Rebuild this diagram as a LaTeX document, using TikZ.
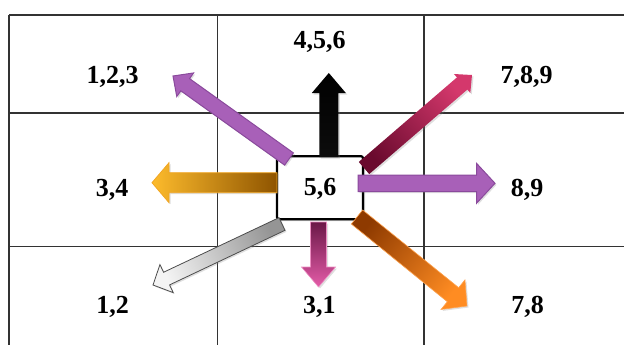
\documentclass[tikz,border=0pt]{standalone}
\usepackage{fontspec}
\setmainfont{Liberation Serif}
\usetikzlibrary{calc,shadows}

\definecolor{morado}{HTML}{A860B8}
\definecolor{moradoborde}{HTML}{8A4A9C}
\definecolor{granate}{HTML}{6A0A2E}
\definecolor{rosa}{HTML}{D4386C}
\definecolor{ocre}{HTML}{8E5400}
\definecolor{amarillo}{HTML}{FDBB2C}
\definecolor{amarilloborde}{HTML}{F2A623}
\definecolor{grisoscuro}{HTML}{959595}
\definecolor{grisclaro}{HTML}{F4F4F4}
\definecolor{ciruela}{HTML}{6B1848}
\definecolor{fucsia}{HTML}{E45CA8}
\definecolor{marron}{HTML}{8E3A00}
\definecolor{naranja}{HTML}{FF8C22}

% flecha de bloque: estilo, cola, punta, semiancho, semiancho punta, largo punta
\newcommand{\flecha}[6]{%
  \coordinate (fb) at ($(#3)!#6!(#2)$);
  \path[#1] ($(#2)!#4!90:(#3)$) -- ($(fb)!#4!90:(#3)$) -- ($(fb)!#5!90:(#3)$)
    -- (#3) -- ($(fb)!#5!-90:(#3)$) -- ($(fb)!#4!-90:(#3)$)
    -- ($(#2)!#4!-90:(#3)$) -- cycle;
}

\tikzset{
  rejilla/.style={draw=black!80, line width=1.1pt},
  etiqueta/.style={font=\fontsize{26}{26}\selectfont\bfseries, inner sep=0pt, text depth=0pt},
  cajacentro/.style={etiqueta, draw=black, line width=2.2pt, fill=white, rounded corners=2pt,
    minimum width=86pt, minimum height=63pt,
    drop shadow={opacity=.35, shadow xshift=2pt, shadow yshift=-2pt}},
  sombra/.style={drop shadow={opacity=.25, shadow xshift=1.5pt, shadow yshift=-1.5pt}},
  degradado/.style n args={3}{bottom color=#1, top color=#2, shading angle=#3},
}

\begin{document}
\begin{tikzpicture}[x=1pt, y=-1pt]

\useasboundingbox (0,0) rectangle (624,345);

% Rejilla
	\foreach \x in {9, 217.5, 424}
		\draw[rejilla] (\x,15) -- (\x,345);

	\foreach \y in {15, 113, 246.5}
		\draw[rejilla] (9,\y) -- (624,\y);

% Etiquetas
	\node[etiqueta] (c123) at (112.6,75) {1,2,3};
	\node[etiqueta] (c456) at (319.5,40) {4,5,6};
	\node[etiqueta] (c789) at (526.6,75) {7,8,9};
	\node[etiqueta] (c34) at (112,187.5) {3,4};
	\node[etiqueta] (c89) at (527,187.5) {8,9};
	\node[etiqueta] (c12) at (112.6,305) {1,2};
	\node[etiqueta] (c31) at (319.3,305) {3,1};
	\node[etiqueta] (c78) at (527.5,305) {7,8};

% Caja central
	\node[cajacentro] (c56) at (320,187.7) {\raisebox{2pt}{5,6}};

% Flechas
	\coordinate (cn) at (328.8,157);   \coordinate (pn) at (328.8,73);
	\coordinate (cno) at (289,159);    \coordinate (pno) at (173,76);
	\coordinate (cne) at (364,168);    \coordinate (pne) at (472,75);
	\coordinate (co) at (277,182.7);   \coordinate (po) at (152,182.7);
	\coordinate (ce) at (358,183.3);   \coordinate (pe) at (495,183.3);
	\coordinate (cso) at (282,224);    \coordinate (pso) at (153,285);
	\coordinate (cs) at (318.5,222);   \coordinate (ps) at (318.5,287);
	\coordinate (cse) at (357,217);    \coordinate (pse) at (467,306);

	\flecha{sombra, degradado={black!95}{black}{0}}{cn}{pn}{9.5pt}{17pt}{20pt}
	\flecha{sombra, fill=morado, draw=moradoborde, line width=1pt}{cno}{pno}{7.5pt}{14.5pt}{15pt}
	\flecha{sombra, degradado={granate}{rosa}{-49}}{cne}{pne}{8pt}{12.5pt}{13pt}
	\flecha{sombra, degradado={ocre}{amarillo}{90}, draw=amarilloborde, line width=.8pt}{co}{po}{10pt}{20pt}{17pt}
	\flecha{sombra, fill=morado, draw=moradoborde, line width=1pt}{ce}{pe}{8.3pt}{20pt}{18.5pt}
	\flecha{sombra, degradado={grisoscuro}{grisclaro}{115}, draw=black!70, line width=.8pt}{cso}{pso}{7pt}{15.5pt}{15pt}
	\flecha{sombra, degradado={ciruela}{fucsia}{180}, draw=fucsia!70, line width=.6pt}{cs}{ps}{8pt}{17pt}{20pt}
	\flecha{sombra, degradado={marron}{naranja}{-129}, draw=naranja!80, line width=.6pt}{cse}{pse}{9pt}{19pt}{18pt}

\end{tikzpicture}
\end{document}
